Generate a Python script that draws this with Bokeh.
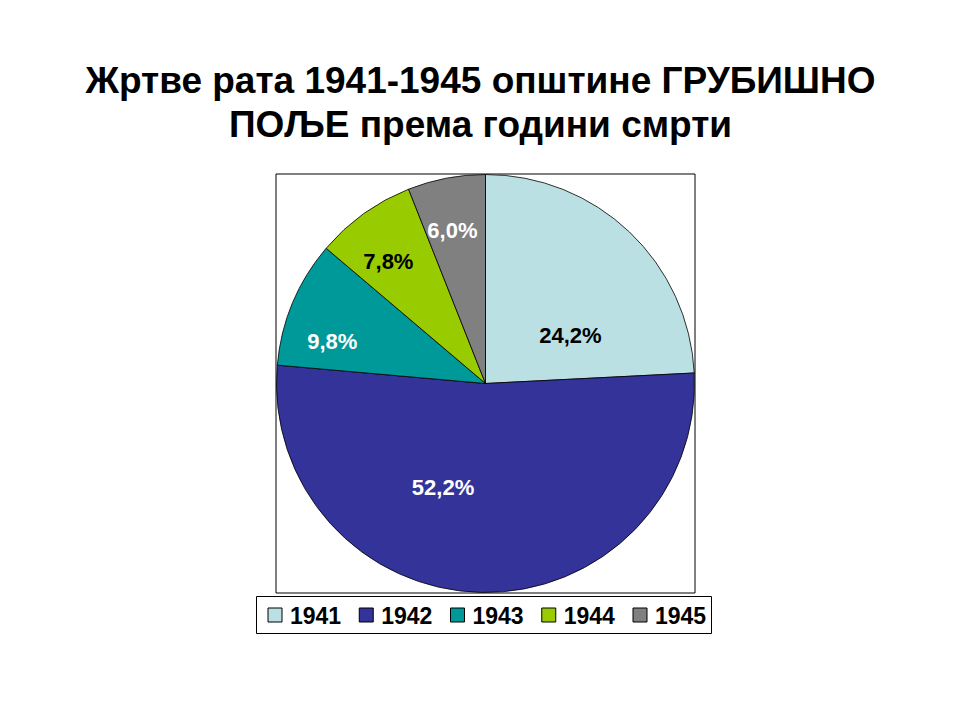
import math
import numpy as np
from bokeh.plotting import figure
from bokeh.models import ColumnDataSource, Range1d
from bokeh.core.properties import value
from bokeh.embed import file_html
from bokeh.resources import INLINE

# ---------------- data ----------------
title_lines = ["Жртве рата 1941-1945 општине ГРУБИШНО", "ПОЉЕ према години смрти"]
years = ["1941", "1942", "1943", "1944", "1945"]
shares = [24.2, 52.2, 9.8, 7.8, 6.0]
pct_labels = ["24,2%", "52,2%", "9,8%", "7,8%", "6,0%"]

# ---------------- styles / layout ----------------
colors = ["#BBE0E3", "#333399", "#009999", "#99CC00", "#808080"]
label_colors = ["black", "white", "white", "black", "white"]
label_rfrac = [0.467, 0.538, 0.76, 0.746, 0.749]
label_dtheta = [16.9, 21.1, -7.3, -2.9, -1.4]
FONT = "Liberation Sans"

W, H = 944, 704


def Y(y):
    return 720 - y


cx, cy, R = 485, Y(383), 209

p = figure(width=W, height=H, x_range=Range1d(0, W), y_range=Range1d(720 - H, 720),
           output_backend="svg", toolbar_location=None, min_border=0)
p.axis.visible = False
p.grid.visible = False
p.outline_line_color = None
p.background_fill_color = "white"

# title
p.text(x=[480, 480], y=[Y(80), Y(124)], text=title_lines,
       text_font=value(FONT), text_font_style="bold", text_font_size="37px",
       text_align="center", text_baseline="alphabetic", text_color="black")

# pie
total = float(sum(shares))
cum = np.cumsum([0.0] + shares) / total
start = math.pi / 2 - cum[:-1] * 2 * math.pi
end = math.pi / 2 - cum[1:] * 2 * math.pi
mid_deg = (cum[:-1] + cum[1:]) / 2 * 360.0
theta = np.radians(mid_deg + np.array(label_dtheta))
lx = cx + np.array(label_rfrac) * R * np.sin(theta)
ly = cy + np.array(label_rfrac) * R * np.cos(theta)

src = ColumnDataSource(dict(year=years, share=shares, start=start, end=end, color=colors,
                            lab=pct_labels, lx=lx, ly=ly, lcol=label_colors))

# frame around the plot area
p.rect(x=cx, y=cy, width=2 * R + 1, height=2 * R + 1, fill_color=None,
       line_color="black", line_width=1)

p.wedge(x=cx, y=cy, radius=R, start_angle="start", end_angle="end", direction="clock",
        fill_color="color", line_color="black", line_width=0.8, source=src)

p.text(x="lx", y="ly", text="lab", text_color="lcol", source=src,
       text_font=value(FONT), text_font_style="bold", text_font_size="22px",
       text_align="center", text_baseline="middle")

# legend (custom, horizontal, boxed)
leg_left, leg_right, leg_top, leg_bottom = 256, 711, 596, 633
p.quad(left=leg_left, right=leg_right, top=Y(leg_top), bottom=Y(leg_bottom),
       fill_color="white", line_color="black", line_width=1)
n = len(years)
pitch = 91.25
sq = 14
first_sq_center = 274.5
sx = first_sq_center + pitch * np.arange(n)
sy = np.full(n, Y((leg_top + leg_bottom) / 2))
lsrc = ColumnDataSource(dict(sx=sx, sy=sy, tx=sx + sq / 2 + 8, color=colors, year=years))
p.rect(x="sx", y="sy", width=sq, height=sq, fill_color="color", line_color="black",
       line_width=1, source=lsrc)
p.text(x="tx", y="sy", text="year", source=lsrc, text_font=value(FONT),
       text_font_style="bold", text_font_size="23px", text_align="left",
       text_baseline="middle", text_color="black")

open("out.html", "w").write(file_html(p, INLINE))
